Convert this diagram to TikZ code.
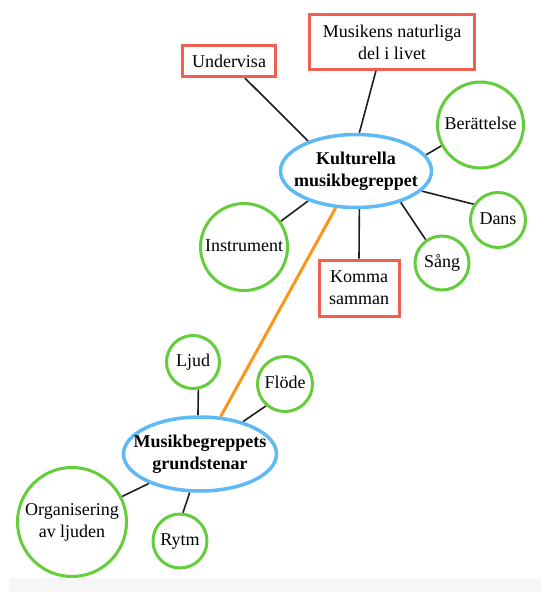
\documentclass[tikz,border=0pt]{standalone}
\usepackage{fontspec}
\setmainfont{Liberation Serif}
\usetikzlibrary{shapes.geometric,backgrounds}

\definecolor{boxred}{RGB}{240,96,80}
\definecolor{leafgreen}{RGB}{100,205,60}
\definecolor{hubblue}{RGB}{95,185,245}
\definecolor{linkorange}{RGB}{250,150,25}
\definecolor{stripgray}{RGB}{246,246,246}

% centred label of zero width, so the shape keeps its given size
\newcommand{\tightlabel}[1]{\makebox[0pt]{\begin{tabular}{@{}c@{}}#1\end{tabular}}}

\tikzset{
  txt/.style={font=\fontsize{18}{22}\selectfont, text=black},
  redbox/.style={txt, rectangle, draw=boxred, line width=3pt, fill=white,
    inner sep=0pt, align=center},
  leaf/.style={txt, circle, draw=leafgreen, line width=3pt, fill=white,
    inner sep=0pt},
  hub/.style={txt, font=\fontsize{18}{22}\selectfont\bfseries, ellipse,
    draw=hubblue, line width=3.5pt, fill=white, inner sep=0pt},
  link/.style={draw=black!88, line width=1.6pt},
  bridge/.style={draw=linkorange, line width=3pt},
}

\begin{document}
\begin{tikzpicture}[x=1pt,y=-1pt]
  \useasboundingbox (0,0) rectangle (541,592);
  \fill[stripgray] (9,578) rectangle (541,592);

  % central hubs
  \node[hub, minimum width=151pt, minimum height=73pt] (kult) at (356,171)
    {\tightlabel{Kulturella\\musikbegreppet}};
  \node[hub, minimum width=153pt, minimum height=74pt] (grund) at (200,454)
    {\tightlabel{Musikbegreppets\\grundstenar}};

  % rectangular topics
  \node[redbox, minimum width=93pt, minimum height=31pt] (undervisa) at (229,61)
    {Undervisa};
  \node[redbox, minimum width=165pt, minimum height=55pt] (naturliga) at (392,42)
    {Musikens naturliga\\del i livet};
  \node[redbox, minimum width=80pt, minimum height=56pt] (komma) at (359,288)
    {Komma\\samman};

  % round topics
  \node[leaf, minimum size=86pt] (berattelse) at (480.5,125) {\tightlabel{Berättelse}};
  \node[leaf, minimum size=55pt] (dans) at (498,220) {\tightlabel{Dans}};
  \node[leaf, minimum size=54pt] (sang) at (442,263) {\tightlabel{Sång}};
  \node[leaf, minimum size=87pt] (instrument) at (244,247) {\tightlabel{Instrument}};
  \node[leaf, minimum size=53pt] (ljud) at (193,362) {\tightlabel{Ljud}};
  \node[leaf, minimum size=55pt] (flode) at (285,384) {\tightlabel{Flöde}};
  \node[leaf, minimum size=109pt] (organisering) at (72,522)
    {\tightlabel{Organisering\\av ljuden}};
  \node[leaf, minimum size=54pt] (rytm) at (180,541) {\tightlabel{Rytm}};

  \begin{scope}[on background layer]
    \draw[link] (undervisa.-47) -- (kult.148.5);
    \draw[link] (naturliga.-119.5) -- (kult.85.5);
    \draw[link] (berattelse.208) -- (kult.13.8);
    \draw[link] (dans.147.4) -- (kult.-17.4);
    \draw[link] (sang.125.3) -- (kult.-35);
    \draw[link] (komma.north) -- (kult.-85.5);
    \draw[link] (instrument.35.4) -- (kult.212.3);

    \draw[bridge] (kult) -- (grund);

    \draw[link] (ljud.-79.9) -- (grund.93);
    \draw[link] (flode.-131) -- (grund.37);
    \draw[link] (organisering.27.5) -- (grund.210);
    \draw[link] (rytm.84) -- (grund.-105.7);
  \end{scope}
\end{tikzpicture}
\end{document}
